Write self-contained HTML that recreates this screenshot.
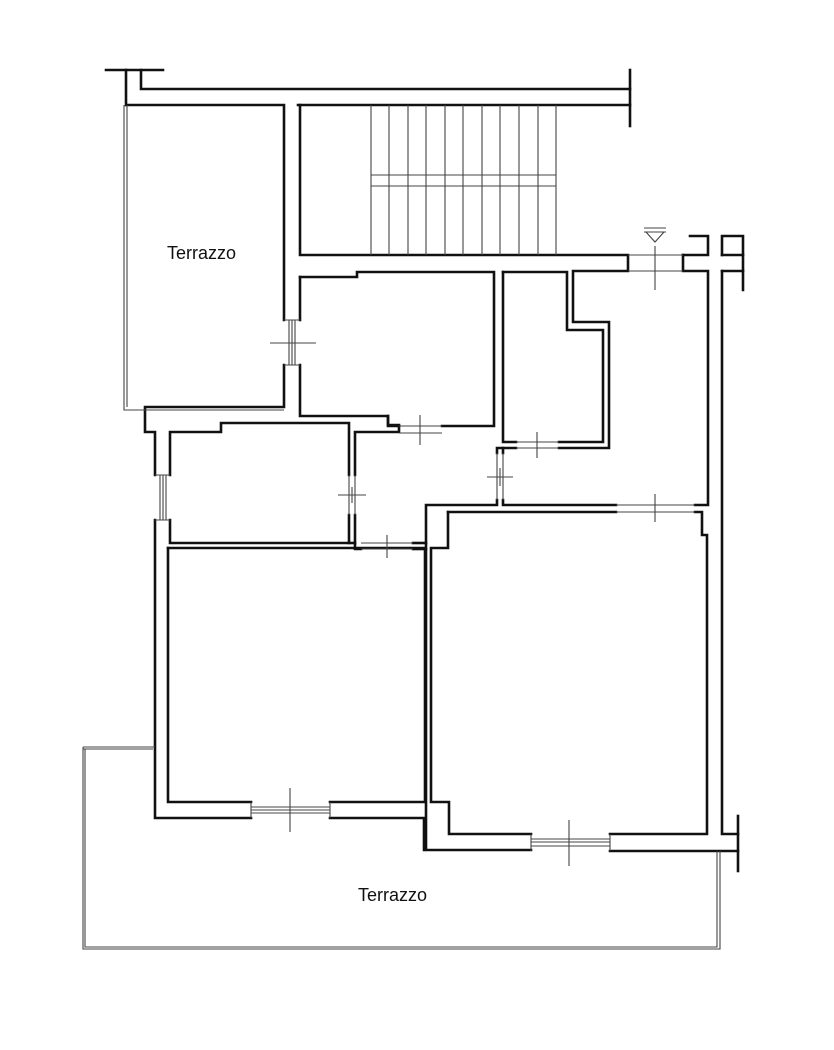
<!DOCTYPE html>
<html><head><meta charset="utf-8"><style>
html,body{margin:0;padding:0;background:#fff;}
svg{display:block;}
text{font-family:"Liberation Sans",sans-serif;font-size:18px;fill:#111;}
</style></head><body>
<svg width="834" height="1050" viewBox="0 0 834 1050" xmlns="http://www.w3.org/2000/svg">
<g fill="none" stroke="#111" stroke-width="2.6" stroke-linejoin="miter" stroke-linecap="square">
<path d="M106,70 H163"/>
<path d="M126,70 V105"/>
<path d="M141,70 V89 H630"/>
<path d="M630,70 V126"/>
<path d="M127,105 H284 V320"/>
<path d="M300,320 V277"/>
<path d="M298,105 H630"/>
<path d="M300,105 V255 H628 V271 H573 V322 H609 V448 H559"/>
<path d="M516,448 H497 V453"/>
<path d="M683,255 V271 H708 V505 H695"/>
<path d="M683,255 H708 V236 H690"/>
<path d="M722,255 V236 H743 V290"/>
<path d="M722,255 H743"/>
<path d="M722,271 H743"/>
<path d="M300,277 H357 V272 H494 V426 H442"/>
<path d="M399,426 H388 V416 H300 V365"/>
<path d="M284,365 V407 H145 V432 H155 V475"/>
<path d="M503,272 H567 V330 H603 V442 H559"/>
<path d="M516,442 H503 V272"/>
<path d="M503,448 V453"/>
<path d="M497,500 V505 H426 V850 H531"/>
<path d="M503,500 V505 H616"/>
<path d="M448,512 H616"/>
<path d="M695,512 H702 V535 H707 V834 H610"/>
<path d="M531,834 H449 V802 H431 V548 H448 V512"/>
<path d="M722,271 V834 H738"/>
<path d="M738,816 V871"/>
<path d="M610,851 H738"/>
<path d="M170,520 V543 H349 V515"/>
<path d="M349,475 V423 H221 V432 H170 V475"/>
<path d="M355,475 V432 H399 V425 H388 V416"/>
<path d="M355,515 V549 H361"/>
<path d="M349,543 H355"/>
<path d="M413,549 H426"/>
<path d="M413,543 H426"/>
<path d="M155,520 V818 H251"/>
<path d="M168,548 H425 V802 H330"/>
<path d="M251,802 H168 V548"/>
<path d="M330,818 H424 V850"/>
</g>
<g fill="none" stroke="#444" stroke-width="1.1">
<path d="M124,105 V410 H284"/><path d="M127,105 V407"/>
<path d="M83,747 H155"/><path d="M83,749 H153"/>
<path d="M83,747 V949 H720 V851"/><path d="M85,749 V947 H717 V851"/>
<path d="M371,105 V255 M389,105 V255 M408,105 V255 M426,105 V255 M445,105 V255 M463,105 V255 M482,105 V255 M500,105 V255 M519,105 V255 M538,105 V255 M556,105 V255"/>
<path d="M371,175 H556 M371,186 H556"/>
<path d="M628,255 H683 M628,271 H683 M655,246 V290"/>
<path d="M399,426 H442 M399,433 H442 M420,415 V445"/>
<path d="M516,442 H559 M516,448 H559 M537,432 V458"/>
<path d="M497,453 V500 M503,453 V500 M487,477 H513 M500,468 V486"/>
<path d="M349,475 V515 M355,475 V515 M338,495 H366 M352,487 V503"/>
<path d="M361,543 H413 M361,549 H413 M387,535 V558"/>
<path d="M616,505 H695 M616,512 H695 M655,494 V522"/>
<path d="M270,343 H316"/>
<path d="M284,320 H300 M284,365 H300 M289,320 V365 M292,320 V365 M295,320 V365"/>
<path d="M155,475 H170 M155,520 H170 M160,475 V520 M163,475 V520 M166,475 V520"/>
<path d="M251,802 V818 M330,802 V818 M251,807 H330 M251,810 H330 M251,813 H330 M290,788 V832"/>
<path d="M531,834 V851 M610,834 V851 M531,839 H610 M531,842 H610 M531,846 H610 M569,820 V866"/>
<path d="M644,228 H666 M644,232 H666 M646,232 L655,242 L664,232"/>
</g>
<text x="167" y="259">Terrazzo</text>
<text x="358" y="901">Terrazzo</text>
</svg>
</body></html>
